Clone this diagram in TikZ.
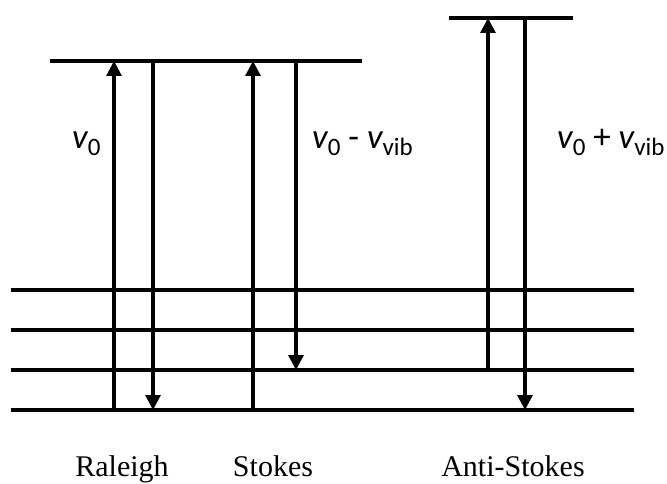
\documentclass[tikz,border=0pt]{standalone}
\usepackage{fontspec}
\setmainfont{Liberation Serif}
\newfontfamily\labelfont{Carlito}
\usetikzlibrary{arrows.meta}

% frequency symbol: italic v with an upright subscript
\newcommand{\freqsym}[1]{{\itshape v}\raisebox{-7pt}{\fontsize{25}{28}\selectfont #1}}

\tikzset{
  level/.style={line width=3.8pt},
  transition/.style={line width=3.2pt, -{Triangle[width=15pt,length=15pt]}},
  freqlabel/.style={anchor=base west, inner sep=0pt,
    font=\labelfont\fontsize{35}{40}\selectfont},
  caption/.style={anchor=base, inner sep=0pt,
    font=\fontsize{30}{34}\selectfont},
}

\begin{document}
\begin{tikzpicture}[x=1pt, y=-1pt]
  \useasboundingbox (0,0) rectangle (667,484);

  % energy levels
  \coordinate (vL) at (50,61);   \coordinate (vR) at (362,61);
  \coordinate (aL) at (449,18);  \coordinate (aR) at (573,18);
  \coordinate (g3L) at (11,290); \coordinate (g3R) at (634,290);
  \coordinate (g2L) at (11,330); \coordinate (g2R) at (634,330);
  \coordinate (g1L) at (11,370); \coordinate (g1R) at (634,370);
  \coordinate (g0L) at (11,410); \coordinate (g0R) at (634,410);

  \draw[level] (vL) -- (vR);
  \draw[level] (aL) -- (aR);
  \draw[level] (g3L) -- (g3R);
  \draw[level] (g2L) -- (g2R);
  \draw[level] (g1L) -- (g1R);
  \draw[level] (g0L) -- (g0R);

  % Raleigh transitions
  \coordinate (rUp0) at (114,410); \coordinate (rUp1) at (114,61);
  \coordinate (rDn0) at (153,61);  \coordinate (rDn1) at (153,410);
  \draw[transition] (rUp0) -- (rUp1);
  \draw[transition] (rDn0) -- (rDn1);

  % Stokes transitions
  \coordinate (sUp0) at (253,410); \coordinate (sUp1) at (253,61);
  \coordinate (sDn0) at (296,61);  \coordinate (sDn1) at (296,370);
  \draw[transition] (sUp0) -- (sUp1);
  \draw[transition] (sDn0) -- (sDn1);

  % Anti-Stokes transitions
  \coordinate (asUp0) at (488,370); \coordinate (asUp1) at (488,18);
  \coordinate (asDn0) at (525,18);  \coordinate (asDn1) at (525,410);
  \draw[transition] (asUp0) -- (asUp1);
  \draw[transition] (asDn0) -- (asDn1);

  % frequency labels
  \node[freqlabel] (fR) at (72,149) {\freqsym{0}};
  \node[freqlabel] (fS) at (312,149) {\freqsym{0} - \freqsym{vib}};
  \node[freqlabel] (fA) at (557,149) {\freqsym{0} + \freqsym{vib}};

  % process names
  \node[caption] (cR) at (122,476) {Raleigh};
  \node[caption] (cS) at (273,476) {Stokes};
  \node[caption] (cA) at (513,476) {Anti-Stokes};
\end{tikzpicture}
\end{document}
